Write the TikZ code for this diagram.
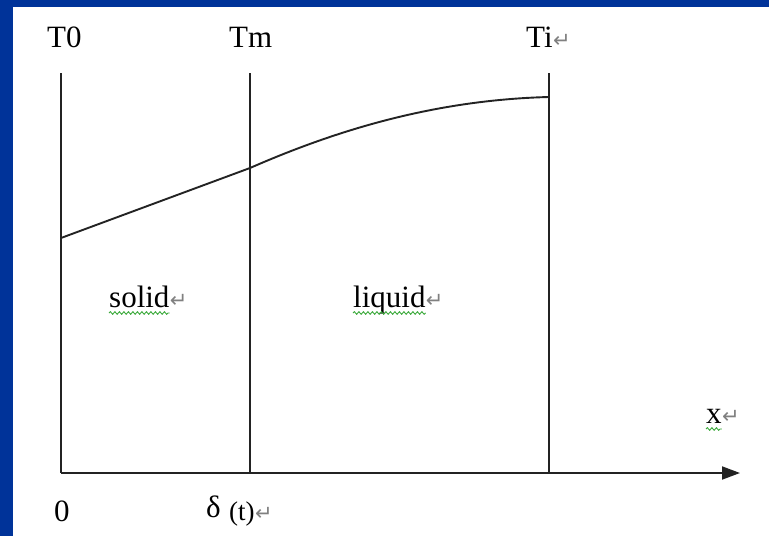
\documentclass[tikz,border=0pt]{standalone}
\usepackage{fontspec}
\setmainfont{Liberation Serif}
\newfontfamily\djv{DejaVu Sans}
\usetikzlibrary{arrows.meta,decorations.pathmorphing}
\definecolor{frameblue}{RGB}{0,51,153}
\definecolor{linegray}{RGB}{35,35,35}
\definecolor{squig}{RGB}{60,170,60}
\begin{document}
\begin{tikzpicture}[x=1pt,y=-1pt,
  lbl/.style={inner sep=0pt, anchor=base west, font=\fontsize{31}{36}\selectfont},
  small/.style={inner sep=0pt, anchor=base west, font=\fontsize{27}{30}\selectfont},
  ret/.style={inner sep=0pt, anchor=base west, text=gray, font=\djv\fontsize{21}{22}\selectfont},
  axisline/.style={line width=1.9pt, draw=linegray},
  tcurve/.style={line width=1.9pt, draw=linegray},
  wavy/.style={draw=squig, line width=0.9pt, decorate, decoration={snake, amplitude=1.3pt, segment length=4.5pt}}]
\fill[white] (0,0) rectangle (769,536);
\fill[frameblue] (0,0) rectangle (769,7);
\fill[frameblue] (0,0) rectangle (13,536);
\useasboundingbox (0,0) rectangle (769,536);
% coordinates
\coordinate (O) at (61,473);
\coordinate (T0top) at (61,73);
\coordinate (Tmtop) at (250,73);
\coordinate (Tmbot) at (250,473);
\coordinate (Titop) at (549,73);
\coordinate (Tibot) at (549,473);
\coordinate (xend) at (740,473);
\coordinate (c0) at (61,238);
\coordinate (cm) at (250,168);
\coordinate (ci) at (549,97);
% lines
\draw[axisline] (T0top) -- (O);
\draw[axisline] (Tmtop) -- (Tmbot);
\draw[axisline] (Titop) -- (Tibot);
\draw[axisline, -{Triangle[length=18pt,width=13pt]}] (O) -- (xend);
\draw[tcurve] (c0) -- (cm) .. controls (330,133) and (430,100) .. (ci);
% labels
\node[lbl] (lT0) at (47,47) {T0};
\node[lbl] (lTm) at (229,47) {Tm};
\node[lbl] (lTi) at (526,47) {Ti};
\node[ret] (rTi) at (lTi.base east) {↵};
\node[lbl] (lsolid) at (109,307) {solid};
\node[ret] (rsolid) at (lsolid.base east) {↵};
\node[lbl] (lliquid) at (353,307) {liquid};
\node[ret] (rliquid) at (lliquid.base east) {↵};
\node[lbl] (lx) at (706,423) {x};
\node[ret] (rx) at (lx.base east) {↵};
\node[lbl] (l0) at (54,521) {0};
\node[inner sep=0pt, anchor=base west, font=\fontsize{31}{34}\selectfont] (ldelta) at (206,517) {δ};
\node[small] (lt) at (229,520) {(t)};
\node[ret] (rt) at (lt.base east) {↵};
% squiggles
\draw[wavy] ([yshift=-6pt]lsolid.base west) -- ([yshift=-6pt]lsolid.base east);
\draw[wavy] ([yshift=-6pt]lliquid.base west) -- ([yshift=-6pt]lliquid.base east);
\draw[wavy] ([yshift=-6pt]lx.base west) -- ([yshift=-6pt]lx.base east);
\end{tikzpicture}
\end{document}
